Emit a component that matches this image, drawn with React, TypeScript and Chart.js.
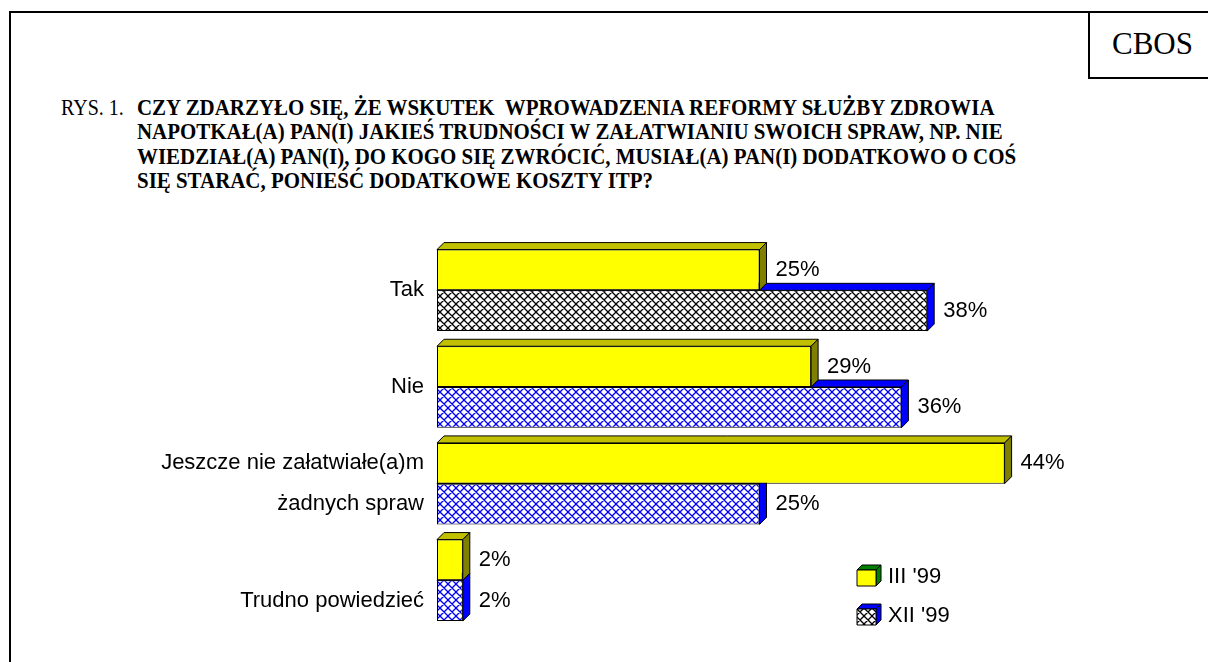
import React, { useEffect, useRef } from 'react';
import { Chart, registerables } from 'chart.js';

Chart.register(...registerables);

// ---- data ----
const categories: (string | string[])[] = [
  'Tak',
  'Nie',
  ['Jeszcze nie załatwiałe(a)m', 'żadnych spraw'],
  'Trudno powiedzieć',
];
const seriesLabels = ["III '99", "XII '99"];
const valuesMar99 = [25, 29, 44, 2];
const valuesDec99 = [38, 36, 25, 2];
const titlePrefix = 'RYS. 1.';
const titleLines = [
  'CZY ZDARZYŁO SIĘ, ŻE WSKUTEK\u00a0 WPROWADZENIA REFORMY SŁUŻBY ZDROWIA',
  'NAPOTKAŁ(A) PAN(I) JAKIEŚ TRUDNOŚCI W ZAŁATWIANIU SWOICH SPRAW, NP. NIE',
  'WIEDZIAŁ(A) PAN(I), DO KOGO SIĘ ZWRÓCIĆ, MUSIAŁ(A) PAN(I) DODATKOWO O COŚ',
  'SIĘ STARAĆ, PONIEŚĆ DODATKOWE KOSZTY ITP?',
];
const sourceLabel = 'CBOS';

const SANS = '"Liberation Sans", Arial, sans-serif';
const SERIF = '"Liberation Serif", "Times New Roman", serif';
const DEPTH = 7;

function hatchTile(color: string): HTMLCanvasElement {
  const c = document.createElement('canvas');
  c.width = 8;
  c.height = 8;
  const g = c.getContext('2d')!;
  g.fillStyle = '#ffffff';
  g.fillRect(0, 0, 8, 8);
  g.strokeStyle = color;
  g.lineWidth = 1.3;
  g.beginPath();
  for (const o of [-8, 0, 8]) {
    g.moveTo(o, 0);
    g.lineTo(o + 8, 8);
    g.moveTo(o + 8, 0);
    g.lineTo(o, 8);
  }
  g.stroke();
  return c;
}

function poly(ctx: CanvasRenderingContext2D, pts: number[][], fill: string | CanvasPattern, stroke = '#000') {
  ctx.beginPath();
  ctx.moveTo(pts[0][0], pts[0][1]);
  for (let i = 1; i < pts.length; i++) ctx.lineTo(pts[i][0], pts[i][1]);
  ctx.closePath();
  ctx.fillStyle = fill;
  ctx.fill();
  ctx.strokeStyle = stroke;
  ctx.lineWidth = 1;
  ctx.stroke();
}

// face colours per dataset: [top, side]
const faceColors = [
  ['#C0C000', '#808000'],
  ['#0000FF', '#0000FF'],
];

const bar3dPlugin = {
  id: 'bar3d',
  beforeDatasetDraw(chart: any, args: any) {
    const meta = chart.getDatasetMeta(args.index);
    const ctx: CanvasRenderingContext2D = chart.ctx;
    const [top, side] = faceColors[args.index];
    ctx.save();
    meta.data.forEach((el: any) => {
      const p = el.getProps(['x', 'y', 'base', 'height'], true);
      const x1 = Math.min(p.base, p.x);
      const x2 = Math.max(p.base, p.x);
      const y1 = p.y - p.height / 2;
      const y2 = p.y + p.height / 2;
      const d = DEPTH;
      poly(ctx, [[x1, y1], [x1 + d, y1 - d], [x2 + d, y1 - d], [x2, y1]], top);
      poly(ctx, [[x2, y1], [x2 + d, y1 - d], [x2 + d, y2 - d], [x2, y2]], side);
    });
    ctx.restore();
  },
  afterDatasetsDraw(chart: any) {
    const ctx: CanvasRenderingContext2D = chart.ctx;
    ctx.save();
    ctx.font = `22px ${SANS}`;
    ctx.fillStyle = '#000';
    ctx.textBaseline = 'middle';
    ctx.textAlign = 'left';
    chart.data.datasets.forEach((ds: any, di: number) => {
      const meta = chart.getDatasetMeta(di);
      meta.data.forEach((el: any, i: number) => {
        const p = el.getProps(['x', 'y'], true);
        ctx.fillText(`${ds.data[i]}%`, p.x + DEPTH + 9, p.y);
      });
    });
    ctx.restore();
  },
};

function makeLegendPlugin(icons: { front: string | CanvasPattern; top: string }[]) {
  return {
    id: 'legend3d',
    afterDraw(chart: any) {
      const ctx: CanvasRenderingContext2D = chart.ctx;
      const ca = chart.chartArea;
      const x0 = ca.left + 420;
      const rows = [ca.top + 334, ca.top + 373];
      ctx.save();
      ctx.font = `22px ${SANS}`;
      ctx.fillStyle = '#000';
      ctx.textBaseline = 'middle';
      chart.data.datasets.forEach((ds: any, i: number) => {
        const cy = rows[i];
        const w = 19, h = 16, d = 5;
        const x = x0, y = cy - h / 2 + 2;
        poly(ctx, [[x, y], [x + d, y - d], [x + w + d, y - d], [x + w, y]], icons[i].top);
        poly(ctx, [[x + w, y], [x + w + d, y - d], [x + w + d, y + h - d], [x + w, y + h]], icons[i].top);
        poly(ctx, [[x, y], [x + w, y], [x + w, y + h], [x, y + h]], icons[i].front);
        ctx.fillStyle = '#000';
        ctx.fillText(ds.label, x0 + 31, cy + 1);
      });
      ctx.restore();
    },
  };
}

export default function App() {
  const ref = useRef<HTMLCanvasElement>(null);

  useEffect(() => {
    const canvas = ref.current!;
    const ctx = canvas.getContext('2d')!;
    const bluePat = ctx.createPattern(hatchTile('#0000FF'), 'repeat')!;
    const blackPat = ctx.createPattern(hatchTile('#000000'), 'repeat')!;
    const decFills = valuesDec99.map((_, i) => (i === 0 ? blackPat : bluePat));

    const chart = new Chart(canvas, {
      type: 'bar',
      data: {
        labels: categories as any,
        datasets: [
          {
            label: seriesLabels[0],
            data: valuesMar99,
            backgroundColor: '#FFFF00',
            borderColor: '#000',
            borderWidth: 1,
            borderSkipped: false,
          },
          {
            label: seriesLabels[1],
            data: valuesDec99,
            backgroundColor: decFills as any,
            borderColor: '#000',
            borderWidth: 1,
            borderSkipped: false,
          },
        ],
      },
      options: {
        indexAxis: 'y',
        animation: false,
        responsive: false,
        devicePixelRatio: 1,
        layout: { padding: { top: 242, bottom: 28, left: 0, right: 126 } },
        datasets: { bar: { categoryPercentage: 0.843, barPercentage: 1.0 } },
        plugins: {
          legend: { display: false },
          tooltip: { enabled: false },
          title: { display: false },
        },
        scales: {
          x: { display: false, min: 0, max: 50 },
          y: {
            grid: { display: false, drawTicks: false },
            border: { display: false },
            ticks: {
              color: '#000',
              padding: 13,
              font: { family: SANS, size: 22, lineHeight: 1.85 },
              callback: (_v: any, i: number) => {
                const l = categories[i];
                return i === categories.length - 1 ? ['', l as string] : l;
              },
            },
            afterFit: (scale: any) => {
              scale.width = 437;
            },
          },
        },
      },
      plugins: [
        bar3dPlugin,
        makeLegendPlugin([
          { front: '#FFFF00', top: '#008000' },
          { front: blackPat, top: '#0000FF' },
        ]),
      ],
    } as any);
    return () => chart.destroy();
  }, []);

  return (
    <div
      style={{
        position: 'absolute',
        left: 0,
        top: 0,
        width: 1208,
        height: 662,
        background: '#fff',
        overflow: 'hidden',
      }}
    >
      <div
        style={{
          position: 'absolute',
          left: 9,
          top: 11,
          width: 1400,
          height: 900,
          border: '2px solid #000',
        }}
      />
      <div
        style={{
          position: 'absolute',
          left: 1088,
          top: 11,
          width: 300,
          height: 64,
          border: '2px solid #000',
        }}
      />
      <div
        style={{
          position: 'absolute',
          left: 1112,
          top: 28,
          font: `31px/31px ${SERIF}`,
          color: '#000',
          whiteSpace: 'nowrap',
        }}
      >
        {sourceLabel}
      </div>
      <div
        style={{
          position: 'absolute',
          left: 61,
          top: 96,
          font: `23px/24.3px ${SERIF}`,
          color: '#000',
          whiteSpace: 'nowrap',
          transform: 'scaleX(0.87)',
          transformOrigin: '0 0',
        }}
      >
        {titlePrefix}
      </div>
      <div
        style={{
          position: 'absolute',
          left: 137,
          top: 96,
          font: `bold 23px/24.3px ${SERIF}`,
          color: '#000',
          whiteSpace: 'nowrap',
          transform: 'scaleX(0.91)',
          transformOrigin: '0 0',
        }}
      >
        {titleLines.map((l, i) => (
          <div key={i}>{l}</div>
        ))}
      </div>
      <canvas
        ref={ref}
        width={1208}
        height={662}
        style={{ position: 'absolute', left: 0, top: 0, width: 1208, height: 662 }}
      />
    </div>
  );
}
